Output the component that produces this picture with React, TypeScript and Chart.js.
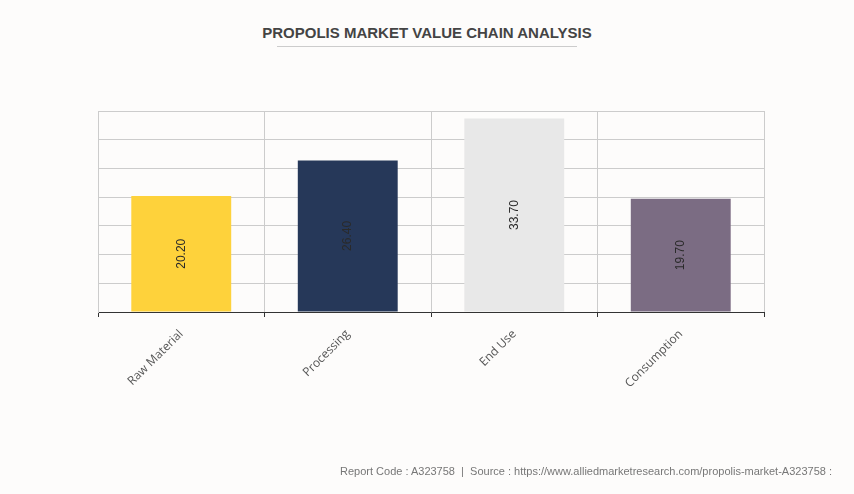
import React, { useEffect, useRef } from "react";
import { Chart, registerables } from "chart.js";

Chart.register(...registerables);

const categories = ["Raw Material", "Processing", "End Use", "Consumption"];
const values = [20.2, 26.4, 33.7, 19.7];
const barColors = ["#FED23B", "#263859", "#E8E8E8", "#7B6C83"];
const yMax = 35;
const yStep = 5;

const dataLabelPlugin = {
  id: "dataLabels",
  afterDatasetsDraw(chart: any) {
    const { ctx } = chart;
    const meta = chart.getDatasetMeta(0);
    ctx.save();
    ctx.font = "12px 'Liberation Sans', Arial, sans-serif";
    ctx.fillStyle = "#2a2a2a";
    ctx.textAlign = "center";
    ctx.textBaseline = "middle";
    meta.data.forEach((bar: any, i: number) => {
      const cy = (bar.y + bar.base) / 2;
      ctx.save();
      ctx.translate(bar.x, cy);
      ctx.rotate(-Math.PI / 2);
      ctx.fillText(values[i].toFixed(2), 0, 0);
      ctx.restore();
    });
    ctx.restore();
  },
};

export default function App() {
  const ref = useRef<HTMLCanvasElement | null>(null);
  useEffect(() => {
    document.body.style.margin = "0";
    const chart = new Chart(ref.current as HTMLCanvasElement, {
      type: "bar",
      data: {
        labels: categories,
        datasets: [
          {
            data: values,
            backgroundColor: barColors,
            borderWidth: 0,
            barPercentage: 0.6,
            categoryPercentage: 1,
          },
        ],
      },
      options: {
        animation: false,
        responsive: false,
        maintainAspectRatio: false,
        layout: { padding: { left: 98, right: 90, top: 111, bottom: 0 } },
        plugins: {
          legend: { display: false },
          tooltip: { enabled: false },
          title: { display: false },
        },
        scales: {
          x: {
            offset: true,
            grid: {
              offset: true,
              color: "#cccccc",
              tickColor: "#333333",
              tickLength: 5,
              drawTicks: true,
            },
            border: { color: "#333333", width: 1 },
            ticks: {
              minRotation: 45,
              maxRotation: 45,
              color: "#555555",
              font: { family: "'Open Sans', sans-serif", size: 12 },
              padding: 10,
            },
            afterFit(scale: any) {
              scale.height = 494 - 312;
            },
          },
          y: {
            min: 0,
            max: yMax,
            ticks: { display: false, stepSize: yStep },
            grid: { color: "#cccccc", drawTicks: false },
            border: { color: "#cccccc", width: 1 },
            afterFit(scale: any) {
              scale.width = 0;
            },
          },
        },
      },
      plugins: [dataLabelPlugin],
    });
    return () => chart.destroy();
  }, []);

  return (
    <div
      style={{
        position: "fixed",
        left: 0,
        top: 0,
        width: 854,
        height: 494,
        background: "#FDFCFB",
        overflow: "hidden",
      }}
    >
      <div
        style={{
          position: "absolute",
          left: 0,
          width: 854,
          top: 24,
          textAlign: "center",
          fontFamily: "'Liberation Sans', Arial, sans-serif",
          fontWeight: "bold",
          fontSize: 15,
          color: "#444444",
          lineHeight: "18px",
        }}
      >
        PROPOLIS MARKET VALUE CHAIN ANALYSIS
      </div>
      <div
        style={{
          position: "absolute",
          left: 277,
          width: 300,
          top: 46,
          height: 1,
          background: "#cccccc",
        }}
      />
      <canvas ref={ref} width={854} height={494} style={{ position: "absolute", left: 0, top: 0 }} />
      <div
        style={{
          position: "absolute",
          right: 22,
          top: 464,
          fontFamily: "'Liberation Sans', Arial, sans-serif",
          fontSize: 11,
          color: "#777777",
          whiteSpace: "pre",
          lineHeight: "14px",
        }}
      >
        {"Report Code : A323758  |  Source : https://www.alliedmarketresearch.com/propolis-market-A323758 :"}
      </div>
    </div>
  );
}
